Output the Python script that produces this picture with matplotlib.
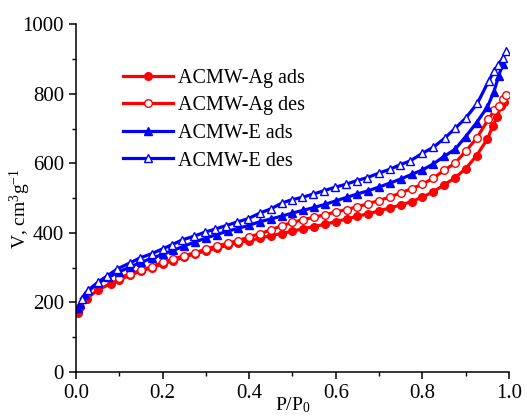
import numpy as np
import matplotlib.pyplot as plt
from matplotlib.ticker import MultipleLocator

# Ag adsorption branch
ag_ads_x = [0.005, 0.01, 0.025, 0.05, 0.08, 0.1, 0.125, 0.15, 0.175, 0.2, 0.225, 0.25, 0.275, 0.3,
            0.325, 0.35, 0.375, 0.4, 0.425, 0.45, 0.475, 0.5, 0.525, 0.55, 0.575, 0.6, 0.625, 0.65,
            0.675, 0.7, 0.725, 0.75, 0.775, 0.8, 0.825, 0.85, 0.875, 0.9, 0.925, 0.95, 0.962, 0.972,
            0.982, 0.988]
ag_ads_y = [170, 188, 211, 235, 254, 265, 278, 290, 300, 310, 320, 330, 340, 348,
            356, 364, 372, 378, 385, 392, 398, 405, 412, 418, 425, 432, 440, 448,
            455, 463, 472, 480, 490, 503, 518, 538, 558, 585, 622, 670, 706, 733,
            765, 776]

# Ag desorption branch
ag_des_x = [0.1, 0.125, 0.15, 0.175, 0.2, 0.225, 0.25, 0.275, 0.3, 0.325, 0.35, 0.375, 0.4,
            0.425, 0.45, 0.475, 0.5, 0.525, 0.55, 0.575, 0.6, 0.625, 0.65, 0.675, 0.7, 0.725,
            0.75, 0.775, 0.8, 0.825, 0.85, 0.875, 0.9, 0.925, 0.952, 0.966, 0.976, 0.986, 0.993]
ag_des_y = [270, 282, 292, 303, 315, 325, 334, 343, 353, 362, 370, 378, 388,
            398, 408, 421, 430, 438, 445, 452, 460, 467, 475, 484, 493, 503,
            515, 527, 540, 557, 580, 600, 635, 672, 726, 752, 765, 785, 797]

# E adsorption branch
e_ads_x = [0.005, 0.01, 0.02, 0.05, 0.075, 0.1, 0.125, 0.15, 0.175, 0.2, 0.225, 0.25, 0.275,
           0.3, 0.325, 0.35, 0.375, 0.4, 0.425, 0.45, 0.475, 0.5, 0.525, 0.55, 0.575, 0.6,
           0.625, 0.65, 0.675, 0.7, 0.725, 0.75, 0.775, 0.8, 0.825, 0.85, 0.875, 0.9, 0.925,
           0.95, 0.965, 0.976, 0.985]
e_ads_y = [185, 196, 222, 255, 272, 288, 302, 315, 327, 338, 350, 362, 374,
           385, 395, 405, 413, 422, 432, 440, 448, 457, 465, 473, 482, 492,
           502, 512, 521, 532, 543, 555, 568, 581, 598, 620, 640, 677, 717,
           762, 806, 851, 885]

# E desorption branch
e_des_x = [0.013, 0.028, 0.052, 0.072, 0.095, 0.124, 0.148, 0.175, 0.2, 0.222, 0.246, 0.272,
           0.298, 0.322, 0.347, 0.372, 0.398, 0.425, 0.45, 0.476, 0.498, 0.522, 0.547, 0.572,
           0.598, 0.624, 0.648, 0.673, 0.7, 0.725, 0.749, 0.772, 0.8, 0.825, 0.851, 0.876,
           0.9, 0.927, 0.953, 0.965, 0.975, 0.985, 0.994]
e_des_y = [211, 235, 259, 276, 296, 313, 328, 340, 354, 366, 380, 390,
           402, 411, 421, 431, 441, 457, 469, 486, 495, 502, 511, 521,
           531, 540, 550, 559, 572, 583, 596, 607, 629, 646, 672, 701,
           730, 773, 837, 864, 883, 902, 923]

plt.rcParams.update({
    "font.family": "Liberation Serif",
    "font.size": 14,
    "mathtext.fontset": "custom",
    "mathtext.rm": "Liberation Serif",
    "mathtext.it": "Liberation Serif:italic",
})

fig = plt.figure(figsize=(5.27, 4.17), dpi=100)
ax = fig.add_axes([0.144, 0.108, 0.822, 0.834])

red = "#ff0000"
blue = "#0000ff"
lw = 2.3
ms = 5.5
ax.plot(ag_ads_x, ag_ads_y, color=red, lw=lw, marker="o", ms=ms, mfc=red, mec=red, label="ACMW-Ag ads")
ax.plot(ag_des_x, ag_des_y, color=red, lw=lw, marker="o", ms=ms, mfc="white", mec=red, mew=1.0, label="ACMW-Ag des")
ax.plot(e_ads_x, e_ads_y, color=blue, lw=lw, marker="^", ms=ms + 0.5, mfc=blue, mec=blue, label="ACMW-E ads")
ax.plot(e_des_x, e_des_y, color=blue, lw=lw, marker="^", ms=ms + 0.5, mfc="white", mec=blue, mew=1.0, label="ACMW-E des")

ax.set_xlim(0, 1.0)
ax.set_ylim(0, 1000)
ax.xaxis.set_major_locator(MultipleLocator(0.2))
ax.xaxis.set_minor_locator(MultipleLocator(0.1))
ax.yaxis.set_major_locator(MultipleLocator(200))
ax.yaxis.set_minor_locator(MultipleLocator(100))
ax.set_xticklabels([f"{v:.1f}" for v in ax.get_xticks()])
ax.spines["top"].set_visible(False)
ax.spines["right"].set_visible(False)
for s in ("left", "bottom"):
    ax.spines[s].set_linewidth(1.1)
ax.tick_params(which="major", direction="out", length=5, width=1.1, labelsize=15)
ax.tick_params(which="minor", direction="out", length=3, width=1.0)

ax.set_xlabel("P/P$_0$", fontsize=14)
ax.xaxis.set_label_coords(0.5, -0.068)
ax.set_ylabel("V, cm$^3$g$^{-1}$", fontsize=14)
ax.yaxis.set_label_coords(-0.098, 0.47)

ax.legend(loc="upper left", bbox_to_anchor=(0.09, 0.895), frameon=False, fontsize=14.5,
          handlelength=2.5, handletextpad=0.25, labelspacing=0.42, borderaxespad=0)

fig.savefig("out.png", dpi=100)
